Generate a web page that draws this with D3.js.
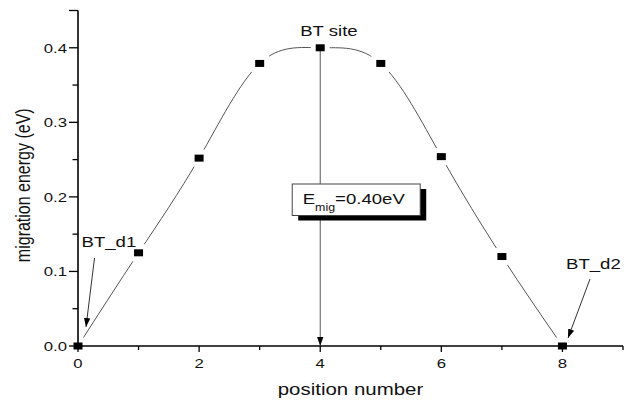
<!DOCTYPE html>
<html>
<head>
<meta charset="utf-8">
<script src="https://cdn.jsdelivr.net/npm/d3@7"></script>
<style>
  html, body { margin: 0; padding: 0; background: #fff; }
  svg { display: block; }
  text { font-family: "Liberation Sans", Arial, sans-serif; fill: #111; }
</style>
</head>
<body>
<svg id="chart" width="626" height="406"></svg>
<script>
// Migration path: energy at each position along the path
const positions = [0, 1, 2, 3, 4, 5, 6, 7, 8];
const energies = [0.0, 0.125, 0.252, 0.379, 0.40, 0.379, 0.254, 0.12, 0.0];

const xTicks = [0, 2, 4, 6, 8];
const xMinorTicks = [1, 3, 5, 7, 9];
const yTicks = [0.0, 0.1, 0.2, 0.3, 0.4];
const yMinorTicks = [0.05, 0.15, 0.25, 0.35];

const barrierLabel = "0.40eV";
const peakLabel = "BT site";
const startLabel = "BT_d1";
const endLabel = "BT_d2";

const SX = 1.24; // horizontal stretch applied to all text glyphs

const svg = d3.select("#chart");
const x = d3.scaleLinear().domain([0, 9]).range([78, 623]);
const y = d3.scaleLinear().domain([0, 0.45]).range([346, 10.5]);

function txt(g, px, py, str, size, anchor, rotate) {
  const t = g.append("text")
    .attr("transform", `translate(${px},${py}) scale(${SX},1)` + (rotate ? ` rotate(${rotate})` : ""))
    .attr("text-anchor", anchor || "start")
    .style("font-size", size + "px")
    .text(str);
  return t;
}

// arrowhead marker
const defs = svg.append("defs");
defs.append("marker")
  .attr("id", "arrow")
  .attr("viewBox", "0 0 10 10")
  .attr("refX", 10).attr("refY", 5)
  .attr("markerWidth", 9).attr("markerHeight", 9)
  .attr("markerUnits", "userSpaceOnUse")
  .attr("orient", "auto")
  .append("path").attr("d", "M0,1.5 L10,5 L0,8.5 Z").attr("fill", "#000");

const pts = positions.map((p, i) => [p, energies[i]]);

// smooth connecting curve
svg.append("path")
  .datum(pts)
  .attr("fill", "none")
  .attr("stroke", "#555")
  .attr("stroke-width", 1)
  .attr("d", d3.line().x(d => x(d[0])).y(d => y(d[1])).curve(d3.curveNatural));

// white halos so the curve stops short of each symbol
const MW = 9, MH = 7;
svg.append("g").selectAll("rect").data(pts).join("rect")
  .attr("x", d => x(d[0]) - MW / 2 - 5)
  .attr("y", d => y(d[1]) - MH / 2 - 5)
  .attr("width", MW + 10).attr("height", MH + 10)
  .attr("fill", "#fff");

// axes
const axes = svg.append("g");
axes.append("line").attr("x1", x(0)).attr("x2", x(9)).attr("y1", y(0)).attr("y2", y(0))
  .attr("stroke", "#000").attr("stroke-width", 1.6);
axes.append("line").attr("x1", x(0)).attr("x2", x(0)).attr("y1", y(0)).attr("y2", y(0.45))
  .attr("stroke", "#000").attr("stroke-width", 1.6);

axes.selectAll(".xt").data(xTicks).join("line")
  .attr("x1", d => x(d)).attr("x2", d => x(d)).attr("y1", y(0)).attr("y2", y(0) + 6)
  .attr("stroke", "#000").attr("stroke-width", 1.3);
axes.selectAll(".xm").data(xMinorTicks).join("line")
  .attr("x1", d => x(d)).attr("x2", d => x(d)).attr("y1", y(0)).attr("y2", y(0) + 4)
  .attr("stroke", "#000").attr("stroke-width", 1.3);
axes.selectAll(".yt").data(yTicks.concat([0.45])).join("line")
  .attr("x1", x(0) - 9).attr("x2", x(0)).attr("y1", d => y(d)).attr("y2", d => y(d))
  .attr("stroke", "#000").attr("stroke-width", 1.3);
axes.selectAll(".ym").data(yMinorTicks).join("line")
  .attr("x1", x(0) - 5.5).attr("x2", x(0)).attr("y1", d => y(d)).attr("y2", d => y(d))
  .attr("stroke", "#000").attr("stroke-width", 1.3);

xTicks.forEach(v => txt(axes, x(v), 368, d3.format("d")(v), 13.5, "middle"));
yTicks.forEach(v => txt(axes, x(0) - 11, y(v) + 5, d3.format(".1f")(v), 13.5, "end"));

txt(svg, (x(0) + x(9)) / 2, 395, "position number", 16.5, "middle");
txt(svg, 29.5, (y(0) + y(0.45)) / 2 + 7, "migration energy (eV)", 16, "middle", -90);

// barrier arrow from the top site down to the axis
svg.append("line")
  .attr("x1", x(4)).attr("x2", x(4)).attr("y1", y(0.40)).attr("y2", y(0))
  .attr("stroke", "#555").attr("stroke-width", 1)
  .attr("marker-end", "url(#arrow)");

// annotation box with drop shadow
const bx = x(4) - 28, by = 184, bw = 128, bh = 31.5;
svg.append("rect").attr("x", bx + 6).attr("y", by + 5).attr("width", bw).attr("height", bh).attr("fill", "#000");
svg.append("rect").attr("x", bx).attr("y", by).attr("width", bw).attr("height", bh)
  .attr("fill", "#fff").attr("stroke", "#444").attr("stroke-width", 1);
const bt = txt(svg, bx + 10.5, by + 19.5, "", 15, "start");
bt.append("tspan").text("E");
bt.append("tspan").attr("dy", 7.5).style("font-size", "10px").text("mig");
bt.append("tspan").attr("dy", -7.5).text("=" + barrierLabel);

// data symbols
svg.append("g").selectAll("rect").data(pts).join("rect")
  .attr("x", d => x(d[0]) - MW / 2)
  .attr("y", d => y(d[1]) - MH / 2)
  .attr("width", MW).attr("height", MH)
  .attr("fill", "#000");

// site labels and pointers
txt(svg, x(4) - 20, 36, peakLabel, 15, "start");
txt(svg, 81.5, 246.5, startLabel, 15, "start");
txt(svg, 566, 269, endLabel, 15, "start");

svg.append("line").attr("x1", 94.5).attr("y1", 258).attr("x2", 86).attr("y2", 327)
  .attr("stroke", "#333").attr("stroke-width", 1).attr("marker-end", "url(#arrow)");
svg.append("line").attr("x1", 590).attr("y1", 279).attr("x2", 568).attr("y2", 338)
  .attr("stroke", "#333").attr("stroke-width", 1).attr("marker-end", "url(#arrow)");
</script>
</body>
</html>
